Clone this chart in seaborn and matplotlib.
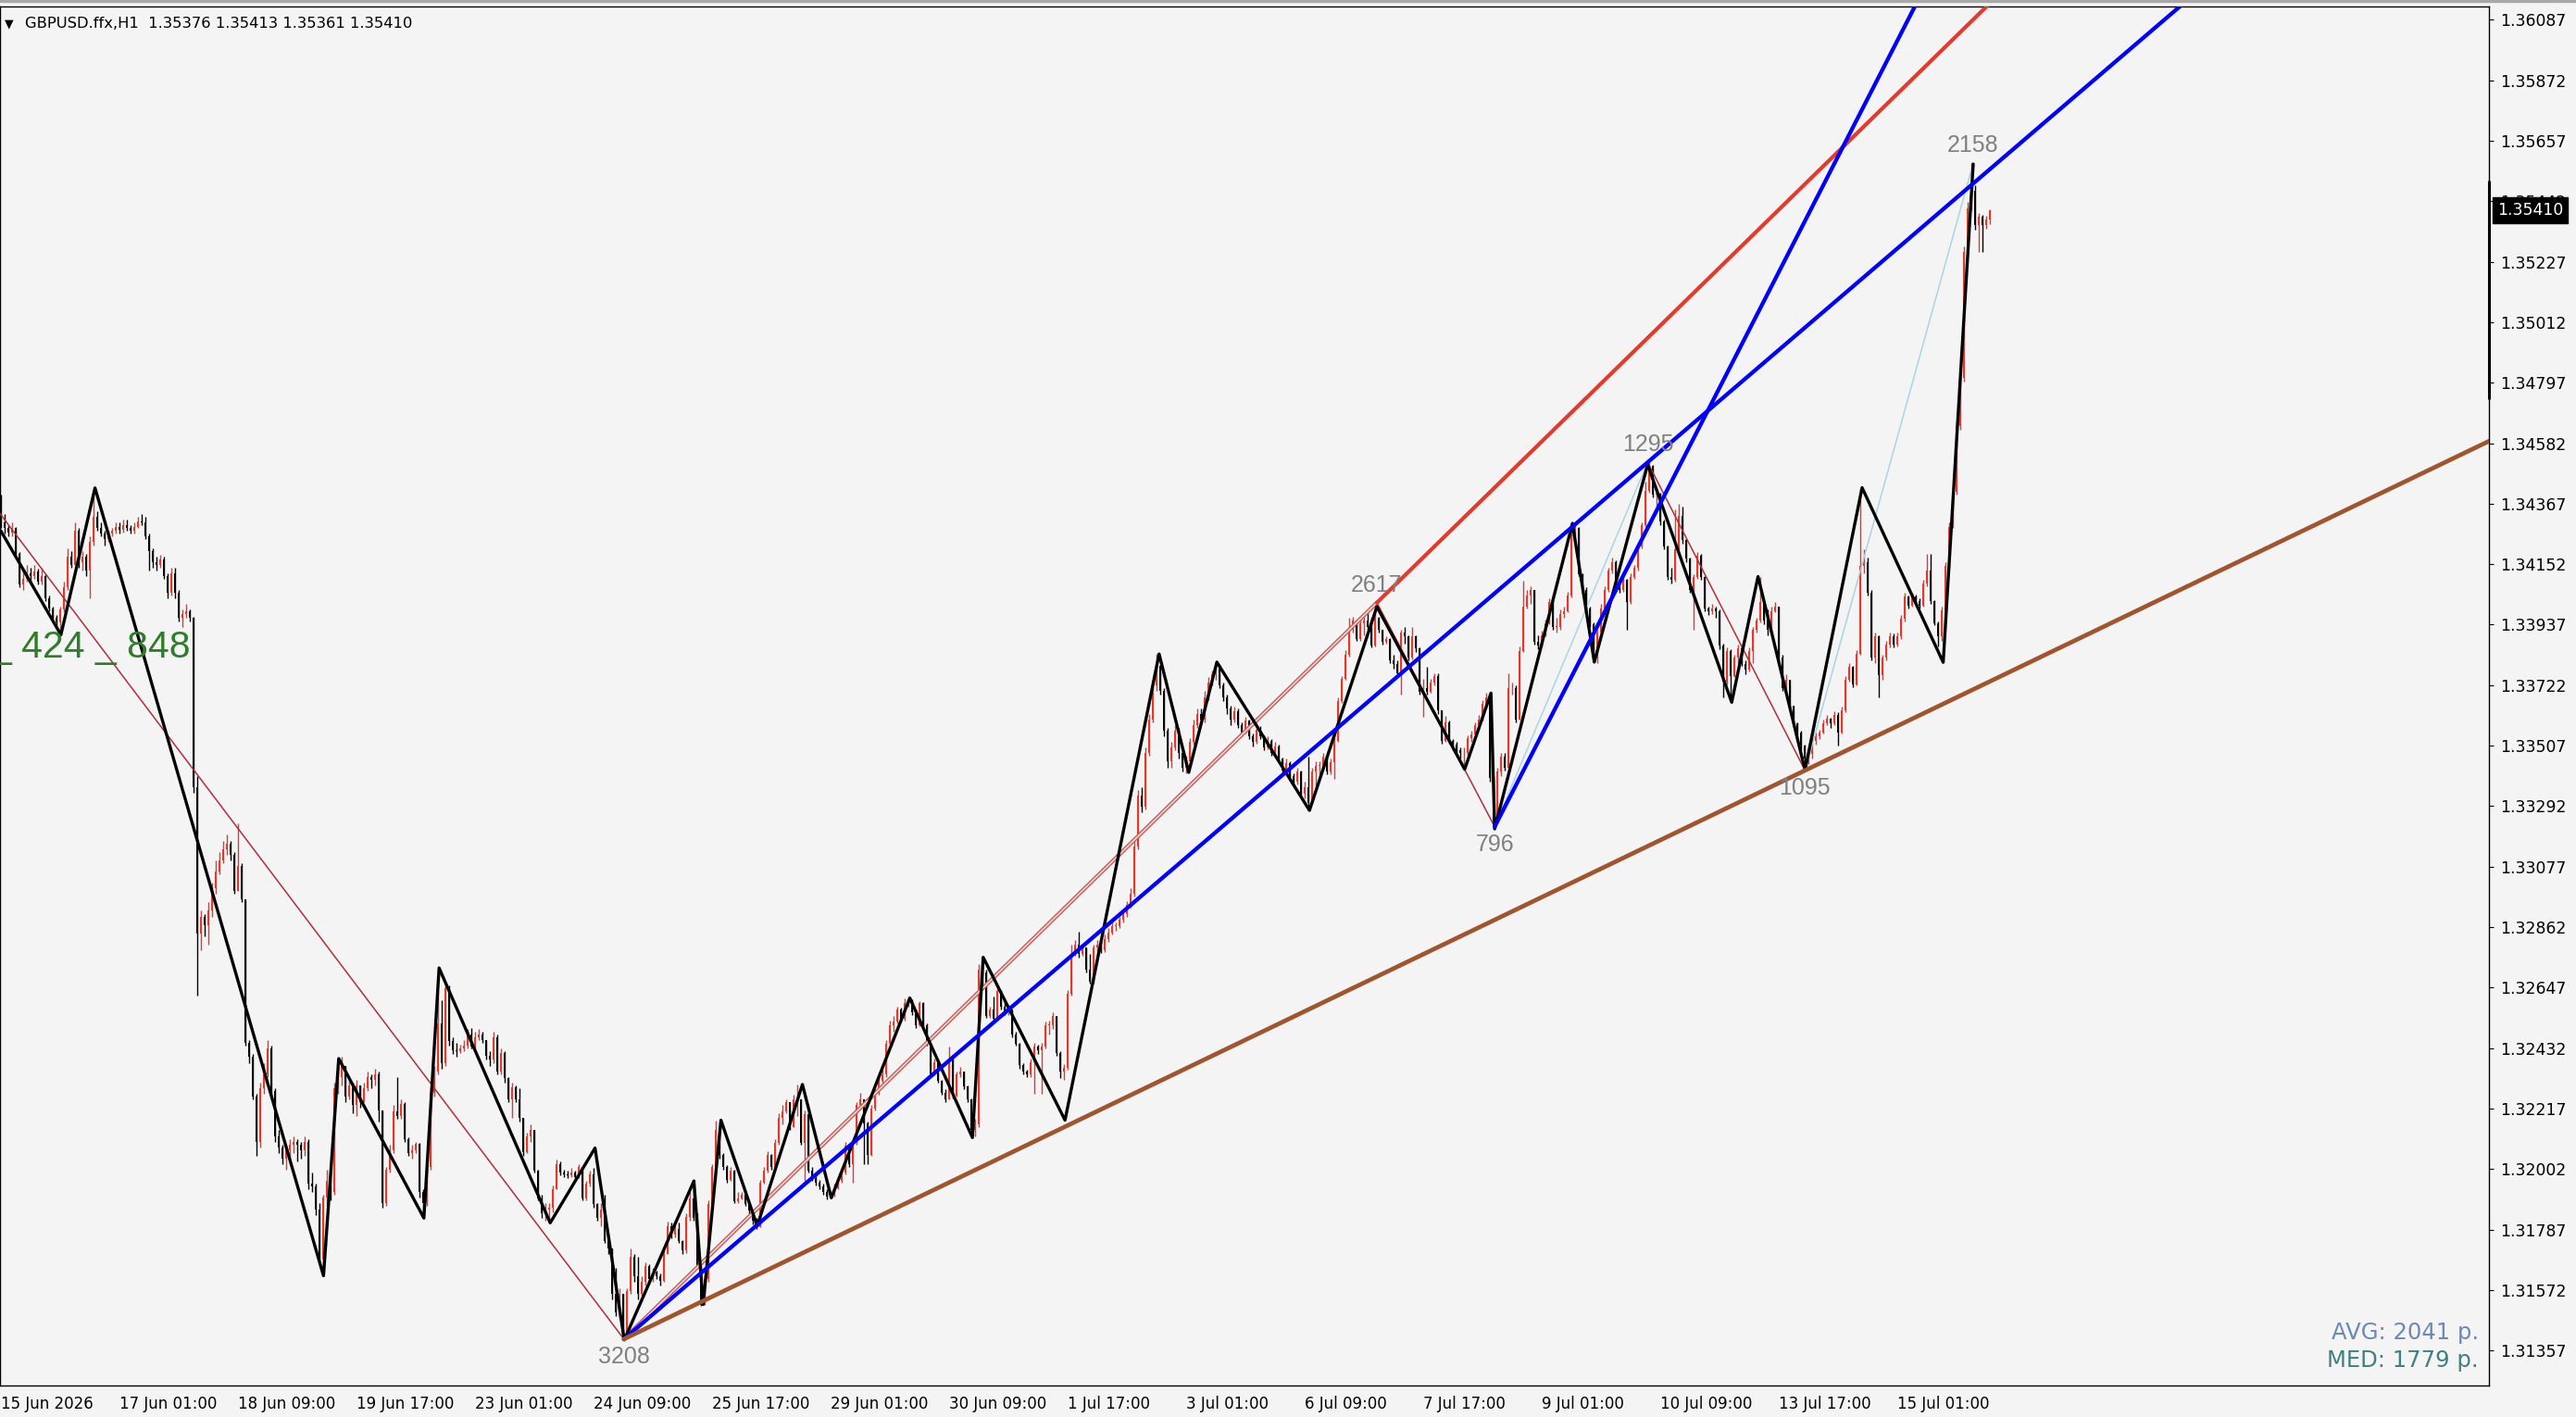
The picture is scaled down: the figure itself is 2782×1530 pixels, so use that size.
import numpy as np
import matplotlib
matplotlib.use("Agg")
import matplotlib.pyplot as plt
import seaborn as sns

# prices are in points above 1.30000 (1 point = 0.00001), one value per H1 bar
first_open = 4390
close_pts = [
    4300, 4280, 4265, 4280, 4190, 4080, 4100, 4120, 4110, 4125,
    4090, 4110, 4030, 3995, 3960, 3945, 3990, 4070, 4180, 4150,
    4270, 4160, 4180, 4130, 4230, 4320, 4280, 4260, 4240, 4260,
    4270, 4285, 4275, 4290, 4280, 4270, 4285, 4305, 4300, 4250,
    4200, 4160, 4150, 4170, 4110, 4050, 4120, 4050, 3960, 3975,
    3985, 3960, 3360, 2840, 2900, 2870, 2920, 3000, 3060, 3100,
    3140, 3160, 3120, 2990, 3080, 2960, 2450, 2400, 2260, 2100,
    2290, 2340, 2430, 2280, 2120, 2080, 2040, 2070, 2090, 2100,
    2090, 2070, 2100, 1950, 1940, 1860, 1680, 1900, 1960, 1920,
    2290, 2330, 2370, 2260, 2300, 2230, 2300, 2240, 2290, 2330,
    2320, 2340, 2210, 1880, 2000, 2070, 2207, 2190, 2234, 2108,
    2058, 2070, 2091, 1921, 1880, 2009, 2272, 2349, 2520, 2377,
    2645, 2459, 2426, 2420, 2431, 2440, 2480, 2437, 2470, 2480,
    2460, 2404, 2390, 2470, 2349, 2415, 2327, 2250, 2294, 2250,
    2185, 2064, 2119, 2140, 1998, 1899, 1844, 1860, 1865, 1932,
    2020, 1990, 1985, 1980, 1990, 1975, 2010, 1899, 1950, 1985,
    1877, 1830, 1860, 1746, 1720, 1560, 1493, 1560, 1416, 1570,
    1691, 1620, 1560, 1600, 1658, 1610, 1635, 1620, 1605, 1702,
    1800, 1768, 1790, 1746, 1713, 1833, 1899, 1830, 1658, 1521,
    1610, 1877, 2009, 2141, 2053, 2009, 1965, 1998, 1888, 1899,
    1910, 1877, 1855, 1820, 1795, 1954, 1998, 2053, 2010, 2097,
    2185, 2207, 2240, 2152, 2250, 2250, 2097, 2196, 1998, 1970,
    1954, 1940, 1920, 1905, 1910, 1935, 1960, 1990, 2086, 2020,
    2097, 2229, 2251, 2163, 2053, 2218, 2273, 2317, 2340, 2448,
    2514, 2525, 2569, 2536, 2591, 2602, 2560, 2514, 2591, 2514,
    2448, 2339, 2383, 2317, 2273, 2251, 2393, 2262, 2339, 2350,
    2295, 2251, 2141, 2160, 2712, 2700, 2547, 2569, 2536, 2635,
    2580, 2558, 2569, 2481, 2448, 2371, 2350, 2339, 2383, 2437,
    2426, 2437, 2514, 2514, 2547, 2415, 2349, 2361, 2624, 2766,
    2800, 2767, 2790, 2712, 2668, 2789, 2800, 2780, 2821, 2843,
    2865, 2865, 2887, 2910, 2940, 2980, 3150, 3330, 3290, 3480,
    3600, 3720, 3790, 3700, 3560, 3450, 3500, 3560, 3480, 3430,
    3450, 3520, 3580, 3620, 3600, 3680, 3730, 3760, 3790, 3720,
    3680, 3640, 3600, 3630, 3580, 3555, 3595, 3540, 3520, 3565,
    3540, 3500, 3525, 3480, 3505, 3460, 3420, 3445, 3400, 3380,
    3414, 3337, 3360, 3304, 3414, 3436, 3436, 3469, 3414, 3447,
    3524, 3666, 3743, 3831, 3919, 3952, 3886, 3941, 3952, 3930,
    3864, 3963, 3919, 3875, 3886, 3809, 3798, 3765, 3908, 3897,
    3820, 3897, 3853, 3699, 3710, 3699, 3732, 3754, 3634, 3524,
    3590, 3524, 3510, 3490, 3480, 3480, 3535, 3546, 3579, 3601,
    3656, 3680, 3392, 3240, 3414, 3469, 3430, 3710, 3710, 3601,
    3842, 4000, 4040, 4060, 3875, 3864, 3900, 3943, 4018, 3930,
    3930, 3974, 3985, 4040, 4259, 4281, 4117, 4061, 3996, 3940,
    3832, 3908, 3996, 4062, 4128, 4160, 4095, 4062, 4095, 4018,
    4106, 4138, 4215, 4292, 4413, 4500, 4400, 4402, 4303, 4216,
    4106, 4095, 4204, 4325, 4237, 4171, 4062, 4106, 4183, 4106,
    3996, 3985, 3996, 3985, 3864, 3733, 3843, 3755, 3821, 3854,
    3798, 3776, 3842, 3918, 3951, 4018, 3951, 3918, 3985, 4000,
    3820, 3710, 3741, 3648, 3586, 3555, 3509, 3462, 3478, 3524,
    3540, 3555, 3586, 3602, 3586, 3617, 3555, 3633, 3741, 3788,
    3726, 3834, 4145, 4160, 4052, 3819, 3896, 3757, 3819, 3865,
    3896, 3865, 3896, 3958, 4036, 4005, 4036, 4021, 4005, 4083,
    4129, 4021, 3943, 3896, 3989, 4145, 4285, 4409, 4642, 4813,
    5263, 5418, 5480, 5356, 5387, 5356, 5376, 5410,
]
high_pts = [
    4400, 4330, 4290, 4300, 4285, 4195, 4130, 4150, 4140, 4150,
    4135, 4140, 4115, 4040, 4000, 3970, 4000, 4090, 4210, 4200,
    4300, 4280, 4200, 4190, 4250, 4400, 4340, 4300, 4270, 4270,
    4280, 4300, 4300, 4310, 4310, 4290, 4300, 4320, 4330, 4320,
    4260, 4210, 4180, 4185, 4180, 4120, 4140, 4140, 4060, 3990,
    4010, 3990, 3965, 3400, 2920, 2910, 2950, 3020, 3100, 3130,
    3170, 3190, 3170, 3130, 3230, 3090, 2960, 2460, 2410, 2270,
    2310, 2380, 2460, 2440, 2290, 2140, 2090, 2080, 2110, 2120,
    2110, 2100, 2120, 2110, 1990, 1950, 1880, 1910, 2000, 1970,
    2310, 2360, 2400, 2370, 2320, 2310, 2320, 2300, 2310, 2350,
    2340, 2360, 2350, 2210, 2010, 2090, 2230, 2330, 2250, 2240,
    2115, 2090, 2100, 2097, 1930, 2020, 2290, 2370, 2635, 2602,
    2660, 2656, 2470, 2450, 2445, 2460, 2500, 2503, 2490, 2500,
    2490, 2460, 2420, 2490, 2481, 2430, 2420, 2330, 2310, 2300,
    2289, 2185, 2130, 2160, 2140, 2000, 1910, 1880, 1880, 1945,
    2035, 2030, 2000, 1995, 2005, 1995, 2020, 2010, 1960, 1995,
    2005, 1880, 1880, 1910, 1750, 1720, 1650, 1580, 1560, 1580,
    1720, 1700, 1690, 1620, 1670, 1665, 1650, 1640, 1630, 1715,
    1815, 1811, 1805, 1811, 1750, 1845, 1920, 1960, 1844, 1660,
    1625, 1890, 2020, 2176, 2141, 2060, 2015, 2010, 2000, 1920,
    1920, 1915, 1880, 1860, 1830, 1965, 2010, 2065, 2055, 2110,
    2200, 2230, 2250, 2240, 2265, 2303, 2250, 2210, 2200, 2010,
    1990, 1965, 1950, 1930, 1925, 1950, 1970, 2000, 2100, 2090,
    2110, 2240, 2273, 2251, 2170, 2230, 2285, 2330, 2355, 2460,
    2530, 2545, 2580, 2575, 2610, 2615, 2605, 2570, 2600, 2596,
    2520, 2450, 2395, 2385, 2320, 2285, 2437, 2395, 2350, 2365,
    2350, 2300, 2255, 2180, 2730, 2755, 2712, 2580, 2615, 2646,
    2640, 2600, 2585, 2570, 2490, 2450, 2380, 2355, 2395, 2450,
    2445, 2450, 2525, 2530, 2558, 2547, 2420, 2375, 2640, 2800,
    2815, 2845, 2800, 2790, 2767, 2800, 2815, 2810, 2835, 2860,
    2880, 2880, 2900, 2925, 2955, 3000, 3170, 3350, 3360, 3500,
    3620, 3740, 3833, 3800, 3710, 3570, 3520, 3580, 3570, 3490,
    3470, 3535, 3600, 3640, 3640, 3700, 3750, 3775, 3804, 3795,
    3730, 3690, 3650, 3645, 3640, 3590, 3610, 3600, 3550, 3580,
    3575, 3545, 3540, 3530, 3520, 3510, 3465, 3460, 3450, 3410,
    3430, 3420, 3380, 3469, 3430, 3450, 3450, 3480, 3470, 3460,
    3570, 3680, 3755, 3845, 3963, 3965, 3955, 3955, 3965, 3985,
    3963, 4015, 3965, 3920, 3895, 3890, 3830, 3810, 3920, 3930,
    3900, 3930, 3900, 3855, 3745, 3787, 3745, 3765, 3765, 3634,
    3612, 3595, 3530, 3520, 3500, 3500, 3545, 3560, 3590, 3615,
    3670, 3694, 3690, 3400, 3430, 3480, 3480, 3765, 3730, 3720,
    3860, 4094, 4060, 4075, 4060, 3900, 3915, 3955, 4030, 4020,
    3960, 3990, 4000, 4055, 4297, 4300, 4285, 4120, 4070, 4000,
    3945, 3920, 4010, 4075, 4140, 4175, 4165, 4100, 4105, 4100,
    4120, 4150, 4225, 4300, 4445, 4514, 4505, 4415, 4405, 4310,
    4220, 4140, 4347, 4368, 4358, 4240, 4175, 4115, 4195, 4190,
    4110, 4000, 4010, 4000, 3990, 3870, 3855, 3850, 3830, 3865,
    3860, 3810, 3855, 3930, 3962, 4108, 4020, 3990, 4000, 4018,
    4000, 3830, 3760, 3740, 3650, 3590, 3560, 3510, 3490, 3535,
    3555, 3565, 3600, 3615, 3605, 3630, 3625, 3645, 3755, 3800,
    3792, 3845, 4420, 4205, 4175, 4060, 3910, 3900, 3830, 3880,
    3910, 3905, 3910, 3970, 4050, 4040, 4050, 4045, 4030, 4095,
    4190, 4190, 4025, 3950, 4000, 4160, 4300, 4420, 4660, 4830,
    5280, 5440, 5577, 5500, 5400, 5395, 5390, 5413,
]
low_pts = [
    4280, 4260, 4250, 4250, 4180, 4070, 4060, 4090, 4090, 4100,
    4080, 4080, 4020, 3985, 3950, 3925, 3900, 3980, 4060, 4140,
    4150, 4140, 4130, 4110, 4030, 4220, 4270, 4250, 4220, 4230,
    4250, 4260, 4260, 4265, 4270, 4260, 4260, 4280, 4290, 4240,
    4130, 4140, 4130, 4140, 4100, 4030, 4040, 4030, 3950, 3930,
    3960, 3950, 3340, 2620, 2780, 2830, 2800, 2900, 2980, 3050,
    3090, 3120, 3100, 2980, 2990, 2950, 2440, 2380, 2250, 2050,
    2080, 2270, 2330, 2260, 2100, 2060, 2020, 2000, 2030, 2060,
    2030, 2040, 2050, 1930, 1920, 1840, 1660, 1630, 1870, 1890,
    1910, 2270, 2300, 2240, 2250, 2200, 2190, 2220, 2240, 2280,
    2290, 2300, 2170, 1865, 1870, 1990, 2060, 2180, 2180, 2100,
    2050, 2040, 2060, 1900, 1830, 1870, 2000, 2260, 2340, 2360,
    2370, 2440, 2410, 2400, 2415, 2420, 2430, 2430, 2430, 2460,
    2450, 2390, 2370, 2380, 2340, 2340, 2310, 2240, 2185, 2240,
    2170, 2050, 2060, 2100, 1990, 1890, 1830, 1820, 1811, 1850,
    1930, 1980, 1975, 1970, 1975, 1965, 1970, 1890, 1890, 1940,
    1865, 1820, 1800, 1740, 1700, 1540, 1480, 1470, 1398, 1420,
    1560, 1600, 1540, 1550, 1590, 1600, 1600, 1610, 1590, 1600,
    1700, 1755, 1760, 1740, 1700, 1705, 1820, 1820, 1650, 1515,
    1520, 1600, 1870, 2000, 2040, 2000, 1955, 1960, 1880, 1880,
    1895, 1870, 1840, 1805, 1790, 1795, 1950, 1990, 2000, 2005,
    2090, 2160, 2200, 2140, 2150, 2190, 2090, 1960, 1990, 1960,
    1945, 1930, 1910, 1895, 1900, 1905, 1930, 1955, 1985, 2010,
    1955, 2090, 2220, 2020, 2020, 2050, 2210, 2265, 2310, 2330,
    2440, 2490, 2520, 2525, 2530, 2580, 2550, 2505, 2510, 2505,
    2440, 2330, 2335, 2310, 2265, 2240, 2250, 2255, 2260, 2330,
    2285, 2240, 2114, 2120, 2150, 2650, 2540, 2540, 2530, 2530,
    2570, 2550, 2550, 2470, 2440, 2360, 2340, 2330, 2330, 2270,
    2410, 2270, 2430, 2480, 2500, 2405, 2327, 2320, 2355, 2620,
    2760, 2755, 2760, 2700, 2660, 2660, 2750, 2770, 2775, 2810,
    2835, 2850, 2860, 2880, 2900, 2930, 2970, 3140, 3270, 3280,
    3470, 3590, 3700, 3690, 3540, 3430, 3430, 3490, 3460, 3415,
    3410, 3440, 3510, 3570, 3585, 3590, 3670, 3720, 3740, 3710,
    3665, 3620, 3580, 3590, 3570, 3540, 3550, 3530, 3505, 3515,
    3530, 3490, 3495, 3470, 3475, 3450, 3410, 3415, 3390, 3370,
    3370, 3330, 3320, 3277, 3300, 3350, 3400, 3425, 3405, 3405,
    3390, 3520, 3660, 3740, 3825, 3910, 3880, 3880, 3900, 3920,
    3855, 3860, 3910, 3865, 3870, 3800, 3780, 3755, 3690, 3870,
    3810, 3815, 3840, 3690, 3610, 3690, 3695, 3720, 3620, 3515,
    3520, 3515, 3490, 3480, 3460, 3430, 3470, 3520, 3540, 3565,
    3595, 3640, 3380, 3219, 3230, 3400, 3420, 3425, 3690, 3590,
    3600, 3840, 3995, 4010, 3865, 3850, 3860, 3895, 3940, 3920,
    3910, 3920, 3960, 3980, 4035, 4230, 4110, 4050, 3985, 3930,
    3804, 3800, 3900, 3990, 4055, 4120, 4085, 4050, 4055, 3920,
    4010, 4100, 4130, 4210, 4285, 4405, 4390, 4360, 4290, 4205,
    4095, 4085, 4090, 4200, 4225, 4160, 4050, 3920, 4100, 4095,
    3985, 3970, 3975, 3960, 3850, 3680, 3725, 3665, 3750, 3800,
    3790, 3760, 3770, 3800, 3910, 3945, 3940, 3900, 3910, 3980,
    3810, 3700, 3700, 3640, 3575, 3540, 3490, 3419, 3440, 3460,
    3510, 3530, 3550, 3580, 3570, 3580, 3508, 3550, 3625, 3735,
    3715, 3720, 3830, 4120, 4040, 3810, 3800, 3680, 3740, 3810,
    3855, 3855, 3860, 3885, 3950, 3995, 4000, 4010, 3995, 4000,
    4075, 4010, 3935, 3860, 3880, 3980, 4140, 4280, 4400, 4630,
    4800, 5250, 5410, 5340, 5263, 5263, 5345, 5361,
]

# small zigzag (black), vertices as (bar, points)
zz_bars = [0, 16.2, 25.4, 87.1, 91.2, 114.2, 118.3, 148.3, 160.4, 168.3,
           187.1, 189.6, 194.4, 204.2, 216.4, 224.2, 245.4, 262.3, 265.2,
           287.3, 312.7, 320.7, 328.3, 353.3, 371.5, 395.2, 402.3, 403.3,
           424.3, 430.2, 444.6, 467.3, 474.4, 487.1, 502.5, 524.4, 532.5]
zz_pts = [4270, 3901, 4423, 1623, 2395, 1828, 2717, 1811, 2077, 1395,
          1960, 1521, 2176, 1800, 2303, 1900, 2610, 2114, 2755,
          2176, 3833, 3412, 3804, 3277, 4001, 3423, 3694, 3211,
          4297, 3804, 4506, 3661, 4108, 3420, 4424, 3803, 5574]

# major swings and their size labels
swing_bars = [-16, 168.2, 371.5, 403.3, 444.6, 487.1, 532.5]
swing_pts = [4606, 1398, 4015, 3219, 4514, 3419, 5577]
swing_labels = ["", "3208", "2617", "796", "1295", "1095", "2158"]

steep_bar, steep_pts = 460, 4676      # second point on the steep blue line
range_bar = [1.34737, 1.35515]         # black bar on the price scale

x_tick_bars = list(range(0, 513, 32))
x_tick_labels = ["15 Jun 2026", "17 Jun 01:00", "18 Jun 09:00", "19 Jun 17:00",
                 "23 Jun 01:00", "24 Jun 09:00", "25 Jun 17:00", "29 Jun 01:00",
                 "30 Jun 09:00", "1 Jul 17:00", "3 Jul 01:00", "6 Jul 09:00",
                 "7 Jul 17:00", "9 Jul 01:00", "10 Jul 09:00", "13 Jul 17:00",
                 "15 Jul 01:00"]
y_ticks = [1.31357, 1.31572, 1.31787, 1.32002, 1.32217, 1.32432, 1.32647,
           1.32862, 1.33077, 1.33292, 1.33507, 1.33722, 1.33937, 1.34152,
           1.34367, 1.34582, 1.34797, 1.35012, 1.35227, 1.35442, 1.35657,
           1.35872, 1.36087]

title = "GBPUSD.ffx,H1  1.35376 1.35413 1.35361 1.35410"
last_price = "1.35410"
green_text = "_ 424 _ 848"
avg_text = "AVG: 2041 p."
med_text = "MED: 1779 p."


def to_price(p):
    return 1.3 + np.asarray(p, dtype=float) / 1e5


sns.set_style("white")
plt.rcParams['font.family'] = ['DejaVu Sans']

W, H = 2782, 1530
BG = '#f4f4f4'
fig = plt.figure(figsize=(W / 100, H / 100), dpi=100, facecolor=BG)
ax = fig.add_axes([0, 1 - 1496 / H, 2688 / W, (1496 - 7) / H])
ax.set_facecolor(BG)

c = to_price(close_pts)
o = np.concatenate([[to_price(first_open)], c[:-1]])
hi = np.maximum(to_price(high_pts), np.maximum(o, c))
lo = np.minimum(to_price(low_pts), np.minimum(o, c))
bars = np.arange(len(c))
up = c >= o
col = np.where(up, '#dc3b2d', '#000000')

# candles
ax.vlines(bars, lo, hi, colors=col, linewidth=1.0, zorder=2)
body = np.maximum(np.abs(c - o), 0.000025)
ax.bar(bars, body, bottom=np.minimum(o, c), width=0.72, color=col,
       linewidth=0, zorder=2.1)

sb = np.array(swing_bars, dtype=float)
sp = to_price(swing_pts)


def seg(i, j, **kw):
    sns.lineplot(x=[sb[i], sb[j]], y=[sp[i], sp[j]], ax=ax, sort=False,
                 estimator=None, legend=False, **kw)


def ray(x0, y0, x1, y1, x_end, **kw):
    k = (y1 - y0) / (x1 - x0)
    sns.lineplot(x=[x0, x_end], y=[y0, y0 + k * (x_end - x0)], ax=ax,
                 sort=False, estimator=None, legend=False, **kw)


# major swing legs
for i, j in [(0, 1), (2, 3), (4, 5)]:
    seg(i, j, color='#b02f3c', linewidth=1.1, zorder=3)
for i, j in [(3, 4), (5, 6)]:
    seg(i, j, color='#a9d5e6', linewidth=1.1, zorder=3)
seg(1, 2, color='#c8625e', linewidth=3.2, zorder=3)
seg(1, 2, color='#f6e6e6', linewidth=1.0, zorder=3.05)

# black zigzag
sns.lineplot(x=zz_bars, y=to_price(zz_pts), ax=ax, sort=False, estimator=None,
             legend=False, color='black', linewidth=2.4, zorder=4)

# trend lines
ray(sb[2], sp[2], sb[2] + (sb[2] - sb[1]), sp[2] + (sp[2] - sp[1]), 800,
    color='#e43a2b', linewidth=3.0, zorder=5)
ray(sb[1], sp[1], sb[4], sp[4], 800, color='#0000ff', linewidth=3.1, zorder=5)
ray(sb[3], sp[3], steep_bar, to_price(steep_pts), 700, color='#0000ff',
    linewidth=3.1, zorder=5)
ray(sb[1], sp[1], sb[5], sp[5], 800, color='#a0552f', linewidth=3.4, zorder=5)

# swing labels
for k, (b, p, t) in enumerate(zip(sb, sp, swing_labels)):
    if not t:
        continue
    is_high = k % 2 == 0
    ax.annotate(t, (b, p), xytext=(0, 5 if is_high else -5),
                textcoords='offset points', ha='center',
                va='bottom' if is_high else 'top', color='#808080',
                fontsize=18, family=['Liberation Sans', 'DejaVu Sans'],
                zorder=6)

ax.text(-2.9, 1.33820, green_text, color='#2f7d2a', fontsize=29.5,
        family=['Liberation Sans', 'DejaVu Sans'], ha='left', va='baseline',
        zorder=6)

ax.set_xlim(-0.25, 671.75)
ax.set_ylim(1.31233, 1.36134)

ax.set_xticks(x_tick_bars)
ax.set_xticklabels(x_tick_labels)
for lbl in ax.get_xticklabels():
    lbl.set_horizontalalignment('left')
ax.set_yticks(y_ticks)
ax.set_yticklabels([f"{v:.5f}" for v in y_ticks])
ax.yaxis.tick_right()
ax.tick_params(axis='y', direction='out', length=3.6, width=0.8, pad=5,
               labelsize=12.4, colors='black')
ax.tick_params(axis='x', direction='out', length=3.6, width=0.8, pad=4,
               labelsize=12, colors='black')
for s in ax.spines.values():
    s.set_color('black')
    s.set_linewidth(1.0)

# price tag and range bar on the price scale
ytr = ax.get_yaxis_transform()
ax.plot([1.0, 1.0], range_bar, transform=ytr, color='black', linewidth=2.2,
        solid_capstyle='butt', clip_on=False, zorder=7)
ax.text(1.0 + 9 / 2688, float(to_price(close_pts[-1])), last_price,
        transform=ytr, ha='left', va='center', color='white', fontsize=12.4,
        bbox=dict(boxstyle='square,pad=0.28', fc='black', ec='black'),
        clip_on=False, zorder=8)

# header and statistics
fig.text(5 / W, 1 - 26 / H, "\u25bc", fontsize=9, ha='left', va='center',
         color='black')
fig.text(27 / W, 1 - 26 / H, title, fontsize=11.8, ha='left', va='center',
         color='black')
fig.text(2677 / W, 1 - 1439 / H, avg_text, fontsize=17.5, ha='right',
         va='center', color='#6a89b8')
fig.text(2677 / W, 1 - 1469 / H, med_text, fontsize=17.5, ha='right',
         va='center', color='#3f8080')
fig.patches.append(plt.Rectangle((0, 1 - 2 / H), 1, 2 / H,
                                 transform=fig.transFigure, color='#a8a8a8'))

fig.savefig('out.png', dpi=100, facecolor=BG)
